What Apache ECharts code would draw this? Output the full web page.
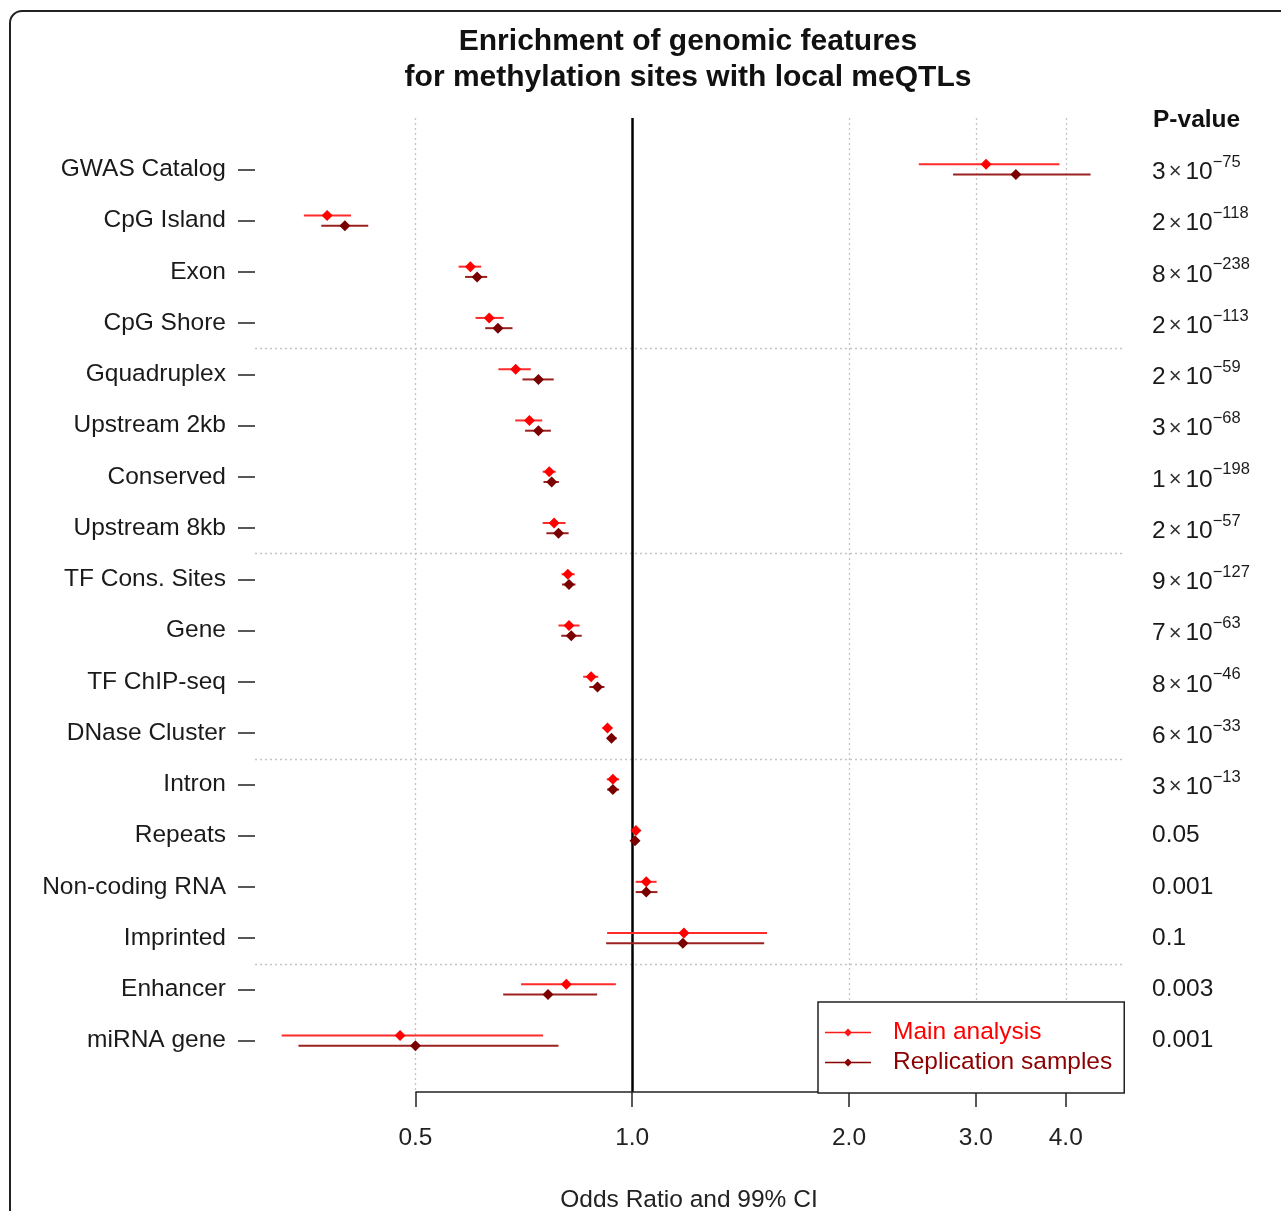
<!DOCTYPE html>
<html>
<head>
<meta charset="utf-8">
<script src="https://cdn.jsdelivr.net/npm/echarts@6/dist/echarts.min.js"></script>
<style>
html, body { margin: 0; padding: 0; background: #fff; }
#chart { width: 1281px; height: 1211px; }
</style>
</head>
<body>
<div id="chart"></div>
<script>
var categories = ['GWAS Catalog', 'CpG Island', 'Exon', 'CpG Shore', 'Gquadruplex', 'Upstream 2kb',
    'Conserved', 'Upstream 8kb', 'TF Cons. Sites', 'Gene', 'TF ChIP-seq', 'DNase Cluster',
    'Intron', 'Repeats', 'Non-coding RNA', 'Imprinted', 'Enhancer', 'miRNA gene'];

// odds ratios and 99% CI, main analysis
var mainOR = [3.10, 0.377, 0.596, 0.633, 0.689, 0.720, 0.767, 0.779, 0.814, 0.817, 0.877, 0.924, 0.940, 1.012, 1.046, 1.180, 0.810, 0.476];
var mainLo = [2.50, 0.350, 0.574, 0.606, 0.652, 0.688, 0.751, 0.751, 0.798, 0.790, 0.855, 0.909, 0.922, 0.998, 1.011, 0.923, 0.701, 0.326];
var mainHi = [3.92, 0.407, 0.617, 0.663, 0.723, 0.750, 0.783, 0.808, 0.832, 0.845, 0.897, 0.938, 0.959, 1.025, 1.081, 1.539, 0.949, 0.752];

// replication samples
var repOR = [3.41, 0.399, 0.609, 0.651, 0.741, 0.741, 0.773, 0.790, 0.817, 0.823, 0.895, 0.936, 0.940, 1.009, 1.046, 1.176, 0.764, 0.500];
var repLo = [2.79, 0.370, 0.586, 0.625, 0.704, 0.710, 0.753, 0.760, 0.799, 0.797, 0.872, 0.923, 0.923, 0.998, 1.011, 0.920, 0.662, 0.344];
var repHi = [4.33, 0.430, 0.629, 0.682, 0.778, 0.771, 0.791, 0.816, 0.834, 0.851, 0.915, 0.951, 0.959, 1.019, 1.084, 1.525, 0.894, 0.790];

// p-values: coefficient and exponent (null = plain number)
var pCoef = ['3', '2', '8', '2', '2', '3', '1', '2', '9', '7', '8', '6', '3', '0.05', '0.001', '0.1', '0.003', '0.001'];
var pExp = [-75, -118, -238, -113, -59, -68, -198, -57, -127, -63, -46, -33, -13, null, null, null, null, null];

var xTicks = [0.5, 1.0, 2.0, 3.0, 4.0];
var gridX = [0.5, 2.0, 3.0, 4.0];
var sepRows = [3.5, 7.5, 11.5, 15.5];

var FONT = '"Liberation Sans", Arial, sans-serif';
var chart = echarts.init(document.getElementById('chart'));

function log2(v) { return Math.log(v) / Math.LN2; }

function buildData(lo, or, hi, off) {
    return categories.map(function (c, i) {
        return [log2(lo[i]), log2(or[i]), log2(hi[i]), i + off];
    });
}

function makeRender(lineColor, dotColor) {
    return function (params, api) {
        var y = api.value(3);
        var a = api.coord([api.value(0), y]);
        var p = api.coord([api.value(1), y]);
        var b = api.coord([api.value(2), y]);
        var r = 5.5;
        return {
            type: 'group',
            children: [
                {type: 'line', shape: {x1: a[0], y1: a[1], x2: b[0], y2: b[1]}, style: {stroke: lineColor, lineWidth: 2}},
                {type: 'polygon', shape: {points: [[p[0], p[1] - r], [p[0] + r, p[1]], [p[0], p[1] + r], [p[0] - r, p[1]]]}, style: {fill: dotColor}}
            ]
        };
    };
}

var rowIdx = categories.map(function (c, i) { return i; });
var ICON = 'path://M0,4.2L46,4.2L46,5.8L0,5.8Z M23,1L27,5L23,9L19,5Z';

var guideLines = [];
gridX.forEach(function (v) {
    guideLines.push([{coord: [log2(v), -1]}, {coord: [log2(v), 18]}]);
});
sepRows.forEach(function (r) {
    guideLines.push([{coord: [-1.74, r]}, {coord: [2.264, r]}]);
});

var option = {
    animation: false,
    backgroundColor: '#fff',
    textStyle: {fontFamily: FONT},
    title: {
        text: 'Enrichment of genomic features\nfor methylation sites with local meQTLs',
        left: 683, top: 19, textAlign: 'center',
        textStyle: {fontSize: 30, fontWeight: 'bold', color: '#111', lineHeight: 36, fontFamily: FONT}
    },
    graphic: [
        {type: 'rect', shape: {x: 10, y: 11, width: 1320, height: 1300, r: 12},
            style: {fill: 'none', stroke: '#222', lineWidth: 2}, silent: true},
        {type: 'text', left: 1153, top: 108,
            style: {text: 'P-value', font: 'bold 24.5px ' + FONT, fill: '#111'}}
    ],
    legend: {
        orient: 'vertical', left: 818, top: 1002,
        padding: [18, 12, 18, 7],
        itemWidth: 46, itemHeight: 10, itemGap: 5,
        borderColor: '#222', borderWidth: 1.5, backgroundColor: '#fff',
        selectedMode: false, z: 10,
        textStyle: {fontSize: 24.5, lineHeight: 24.5, padding: [0, 0, 0, 17], fontFamily: FONT},
        data: [
            {name: 'Main analysis', icon: ICON, itemStyle: {color: '#ff1a1a', borderWidth: 0}, textStyle: {color: '#ff0000'}},
            {name: 'Replication samples', icon: ICON, itemStyle: {color: '#8b0000', borderWidth: 0}, textStyle: {color: '#8b0000'}}
        ]
    },
    grid: {left: 255, right: 158, top: 118, bottom: 119, outerBoundsMode: 'none', containLabel: false},
    xAxis: {
        type: 'value', min: -1.74, max: 2.264,
        name: 'Odds Ratio and 99% CI', nameLocation: 'middle', nameGap: 96,
        nameTextStyle: {fontSize: 24.5, color: '#222', fontFamily: FONT},
        axisLine: {show: false, onZero: false},
        splitLine: {show: false},
        axisTick: {show: true, length: 15, customValues: xTicks.map(log2), lineStyle: {color: '#222', width: 1.5}},
        axisLabel: {
            customValues: xTicks.map(log2), margin: 34, fontSize: 24.5, color: '#222',
            formatter: function (v) { return Math.pow(2, v).toFixed(1); }
        }
    },
    yAxis: [{
        type: 'value', min: -1, max: 18, interval: 1, inverse: true,
        axisLine: {show: false, onZero: false},
        splitLine: {show: false},
        axisTick: {show: true, length: 17, customValues: rowIdx, lineStyle: {color: '#222', width: 1.5}},
        axisLabel: {
            customValues: rowIdx, margin: 29, fontSize: 24.5, color: '#1a1a1a',
            formatter: function (v) { return categories[v] || ''; }
        }
    }, {
        type: 'value', min: -1, max: 18, interval: 1, inverse: true, position: 'right',
        axisLine: {show: false, onZero: false},
        splitLine: {show: false},
        axisTick: {show: false},
        axisLabel: {
            customValues: rowIdx, margin: 29, color: '#1a1a1a',
            formatter: function (v) {
                if (v < 0 || v > 17) return '';
                if (pExp[v] === null) return '{p|' + pCoef[v] + '}';
                return '{b|' + pCoef[v] + '}{x|\u00d7}{b|10}{s|\u2212' + Math.abs(pExp[v]) + '}';
            },
            rich: {
                p: {fontSize: 24.5, color: '#1a1a1a', fontFamily: FONT},
                b: {fontSize: 24.5, lineHeight: 24, padding: [6, 0, 0, 0], color: '#1a1a1a', fontFamily: FONT},
                x: {fontSize: 22, lineHeight: 22, padding: [7, 4, 1, 3], color: '#333', fontFamily: FONT},
                s: {fontSize: 16.5, lineHeight: 16, padding: [0, 0, 14, 0], color: '#1a1a1a', fontFamily: FONT}
            }
        }
    }],
    series: [{
        type: 'line', data: [], silent: true,
        markLine: {
            silent: true, symbol: 'none', label: {show: false}, animation: false,
            data: guideLines.map(function (d) {
                return [Object.assign({lineStyle: {color: '#c4c4c4', type: [2, 3], width: 1.3}}, d[0]), d[1]];
            }).concat([
                [{coord: [0, -1], lineStyle: {color: '#000', type: 'solid', width: 2.5}}, {coord: [0, 18]}],
                [{coord: [log2(0.5), 18], lineStyle: {color: '#222', type: 'solid', width: 1.5}}, {coord: [2, 18]}]
            ])
        }
    }, {
        name: 'Main analysis', type: 'custom',
        itemStyle: {color: '#ff1a1a'},
        renderItem: makeRender('#ff2a2a', '#ff0000'),
        encode: {x: [0, 1, 2], y: 3},
        data: buildData(mainLo, mainOR, mainHi, -0.1),
        z: 5
    }, {
        name: 'Replication samples', type: 'custom',
        itemStyle: {color: '#8b0000'},
        renderItem: makeRender('#9b2020', '#7a0000'),
        encode: {x: [0, 1, 2], y: 3},
        data: buildData(repLo, repOR, repHi, 0.1),
        z: 5
    }]
};

chart.setOption(option);
</script>
</body>
</html>
